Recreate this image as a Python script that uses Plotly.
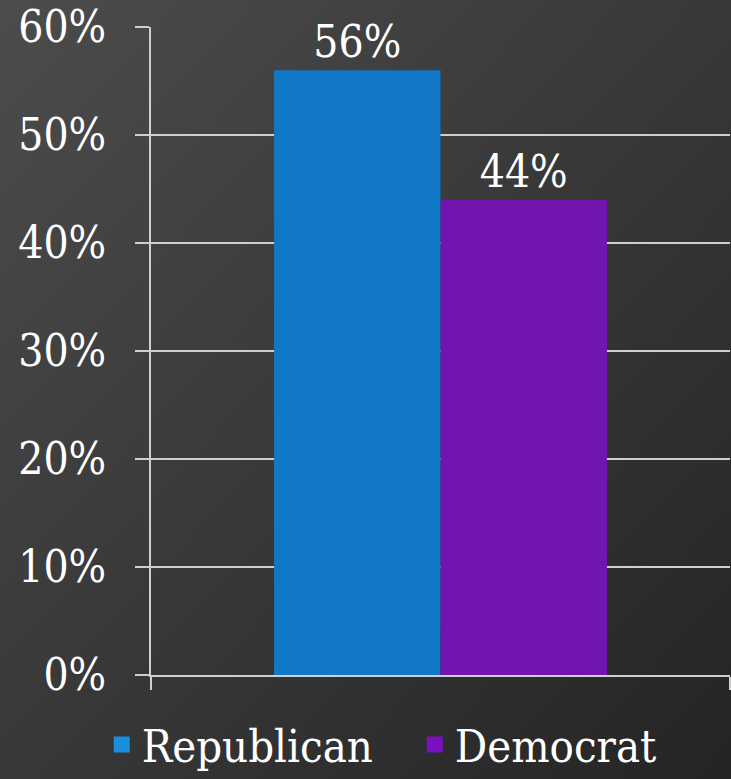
import plotly.graph_objects as go

categories = ["Share"]
series_names = ["Republican", "Democrat"]
republican = [56]
democrat = [44]
tick_vals = [0, 10, 20, 30, 40, 50, 60]
tick_text = ["0%", "10%", "20%", "30%", "40%", "50%", "60%"]
colors = ["#1078c6", "#7016ae"]
legend_colors = ["#1b8ee0", "#7a10c0"]

W, H = 731, 779
ML, MR, MT, MB = 151, 1, 27, 104
pw, ph = W - ML - MR, H - MT - MB

FONT = "'DejaVu Serif Condensed', 'DejaVu Serif'"

bg_svg = (
    "data:image/svg+xml;utf8,"
    "<svg xmlns='http://www.w3.org/2000/svg' width='731' height='779' preserveAspectRatio='none'>"
    "<defs><linearGradient id='g' x1='0' y1='0' x2='1' y2='1'>"
    "<stop offset='0' stop-color='%234c4c4c'/><stop offset='1' stop-color='%23242424'/>"
    "</linearGradient></defs><rect width='731' height='779' fill='url(%23g)'/></svg>"
)

fig = go.Figure()
for name, vals, col in zip(series_names, [republican, democrat], colors):
    fig.add_trace(go.Bar(
        name=name, x=categories, y=vals, showlegend=False, legendgroup=name,
        marker=dict(color=col, line=dict(width=0)),
        text=[f"{v}%" for v in vals], textposition="outside",
        textfont=dict(family=FONT, size=44, color="white"), cliponaxis=False,
    ))
for name, lcol in zip(series_names, legend_colors):
    fig.add_trace(go.Scatter(
        name=name, x=[None], y=[None], mode="markers", legendgroup=name,
        marker=dict(symbol="square", size=25, color=lcol),
    ))

fig.update_layout(
    width=W, height=H,
    margin=dict(l=ML, r=MR, t=MT, b=MB, autoexpand=False),
    paper_bgcolor="#363636", plot_bgcolor="rgba(0,0,0,0)",
    barmode="group", bargap=0.425, bargroupgap=0,
    font=dict(family=FONT, color="white"),
    showlegend=True,
    legend=dict(orientation="h", x=-0.085, xanchor="left", y=-0.052, yanchor="top",
                font=dict(family=FONT, size=45, color="white"),
                bgcolor="rgba(0,0,0,0)", itemsizing="trace", itemwidth=30, tracegroupgap=0,
                entrywidth=268, entrywidthmode="pixels"),
    images=[dict(source=bg_svg, xref="paper", yref="paper",
                 x=-ML / pw, y=1 + MT / ph, sizex=W / pw, sizey=H / ph,
                 sizing="stretch", xanchor="left", yanchor="top", layer="below")],
)
fig.update_yaxes(
    range=[0, 60], tickvals=tick_vals, ticktext=tick_text,
    showgrid=True, gridcolor="#cfcfcf", gridwidth=2,
    showline=True, linecolor="#cfcfcf", linewidth=2,
    ticks="outside", ticklen=14, tickwidth=2, tickcolor="#cfcfcf",
    tickfont=dict(family=FONT, size=44, color="white"),
    ticklabelstandoff=20, zeroline=False,
)
fig.update_xaxes(
    showticklabels=False, showline=True, linecolor="#cfcfcf", linewidth=2,
    ticks="outside", tickson="boundaries", ticklen=13, tickwidth=2, tickcolor="#cfcfcf",
    showgrid=False,
)

fig.write_html("out.html")
